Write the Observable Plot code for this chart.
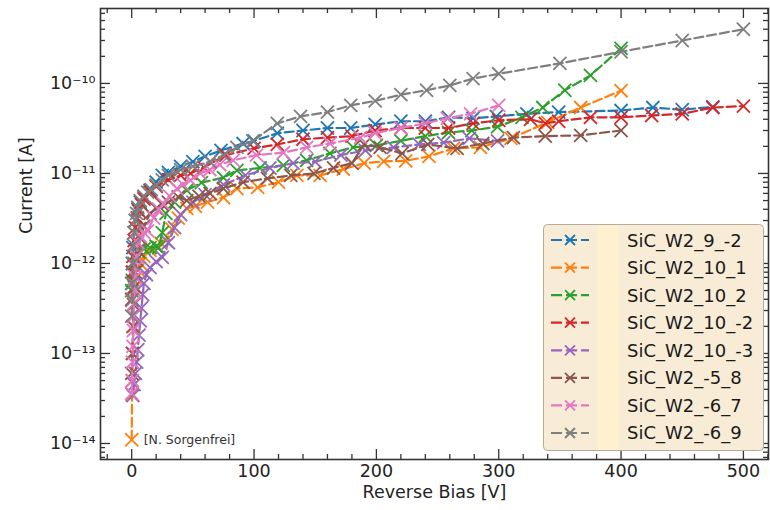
<!DOCTYPE html>
<html><head><meta charset="utf-8">
<script src="https://cdn.jsdelivr.net/npm/d3@7"></script>
<script src="https://cdn.jsdelivr.net/npm/@observablehq/plot@0.6"></script>
<style>
html,body{margin:0;padding:0;background:#fff;}
#wrap{position:relative;width:770px;height:510px;font-family:"DejaVu Sans",sans-serif;}
#legend{position:absolute;left:543px;top:224px;}
</style></head>
<body><div id="wrap"></div>
<script>
// ---- series metadata ----
const names = ["SiC_W2_9_-2","SiC_W2_10_1","SiC_W2_10_2","SiC_W2_10_-2","SiC_W2_10_-3","SiC_W2_-5_8","SiC_W2_-6_7","SiC_W2_-6_9"];
const colors = ["#1f77b4","#ff7f0e","#2ca02c","#d62728","#9467bd","#8c564b","#e377c2","#7f7f7f"];

// ---- data: reverse bias [V] and current [A] ----
const v_9_m2 = [0,0.5,1,2,3,5,7,10,15,20,25,30,40,50,60,73,91,100,119,140,160,179,199,220,240,259,279,298,323,349,400,426,450,475];
const i_9_m2 = [6e-13,1e-12,1.5e-12,2.2e-12,3e-12,4e-12,4.8e-12,5.5e-12,6.5e-12,8e-12,9.5e-12,1.03e-11,1.2e-11,1.35e-11,1.55e-11,1.8e-11,2.15e-11,2.3e-11,2.8e-11,3.0e-11,3.2e-11,3.2e-11,3.5e-11,3.8e-11,3.8e-11,4.2e-11,4.1e-11,4.3e-11,4.6e-11,4.8e-11,5.0e-11,5.4e-11,5.1e-11,5.5e-11];

const v_10_1 = [0,0.3,0.6,1,1.5,2,3,4,5,7,10,15,20,24,28,33,38,45,52,62,75,86,103,120,135,154,173,190,206,224,243,263,285,310,340,367,400];
const i_10_1 = [1.1e-14,3.5e-14,5e-14,1e-13,2e-13,3.5e-13,5.5e-13,7e-13,8.5e-13,1e-12,1.2e-12,1.4e-12,1.55e-12,1.67e-12,1.8e-12,2.4e-12,3.2e-12,4.1e-12,4.3e-12,4.8e-12,5.4e-12,6.8e-12,7e-12,8e-12,9.5e-12,9.5e-12,1.12e-11,1.3e-11,1.36e-11,1.38e-11,1.55e-11,1.9e-11,1.95e-11,2.45e-11,3.7e-11,5.4e-11,8.3e-11];

const v_10_2 = [0,0.5,1,2,4,6,10,15,20,22,25,28,35,45,57,75,86,105,124,143,162,181,200,220,240,259,278,299,319,336,354,375,400];
const i_10_2 = [5e-13,6.5e-13,8e-13,1e-12,1.2e-12,1.35e-12,1.45e-12,1.5e-12,1.55e-12,1.5e-12,2.2e-12,3.6e-12,4.8e-12,6.5e-12,7.9e-12,9e-12,1.08e-11,1.15e-11,1.23e-11,1.4e-11,1.67e-11,1.95e-11,2.05e-11,2.3e-11,2.6e-11,2.85e-11,3.0e-11,3.3e-11,4.2e-11,5.4e-11,8.4e-11,1.23e-10,2.45e-10];

const v_10_m2 = [0,0.5,1,2,3,4.5,6,8,10,15,20,30,40,48,59,77,100,119,140,160,180,199,220,240,259,279,300,326,338,349,375,400,425,450,475,500];
const i_10_m2 = [4e-13,8e-13,1.2e-12,1.8e-12,2.5e-12,3.2e-12,3.8e-12,4.5e-12,5.2e-12,6.2e-12,7.2e-12,8.5e-12,9.5e-12,1.0e-11,1.17e-11,1.6e-11,1.9e-11,2.1e-11,2.4e-11,2.5e-11,2.6e-11,3.0e-11,3.2e-11,3.2e-11,3.2e-11,3.6e-11,3.9e-11,4.0e-11,3.6e-11,3.8e-11,4.2e-11,4.2e-11,4.4e-11,4.6e-11,5.4e-11,5.6e-11];

const v_10_m3 = [1,2,3,4,5,6,7,8,9,10,12,15,20,25,30,35,40,50,60,75,93,113,132,150,171,191,214,235,255,276,299];
const i_10_m3 = [3.4e-14,4.5e-14,6e-14,8e-14,1.1e-13,1.6e-13,2.3e-13,3.2e-13,4.5e-13,6e-13,7.5e-13,9e-13,1.05e-12,1.17e-12,1.7e-12,2.5e-12,3.5e-12,4.8e-12,5.8e-12,7.5e-12,9.5e-12,1.15e-11,1.3e-11,1.35e-11,1.6e-11,1.8e-11,1.95e-11,2.1e-11,2.2e-11,2.45e-11,2.3e-11];

const v_m5_8 = [0,0.5,1,1.5,2,3,4,5,7,10,15,20,25,30,38,45,55,64,75,91,111,130,149,165,180,190,203,221,242,266,287,312,338,367,400];
const i_m5_8 = [6e-14,1e-13,2e-13,3.5e-13,5.5e-13,8e-13,1.1e-12,1.4e-12,1.9e-12,2.6e-12,3.6e-12,4.1e-12,4.5e-12,4.8e-12,5.5e-12,5e-12,5.6e-12,6e-12,6.8e-12,8e-12,8.8e-12,9.5e-12,1.0e-11,1.15e-11,1.3e-11,2.1e-11,1.95e-11,1.67e-11,2.1e-11,1.9e-11,2.15e-11,2.5e-11,2.6e-11,2.65e-11,3.0e-11];

const v_m6_7 = [0,0.3,0.6,1,1.3,1.6,2,2.5,3,3.5,4,5,7,10,13,18,22,26,31,37,42,48,56,64,72,83,102,124,143,162,187,199,220,240,258,277,300];
const i_m6_7 = [3.6e-14,5e-14,8e-14,1.2e-13,1.8e-13,2.6e-13,3.6e-13,5e-13,7e-13,9e-13,1.2e-12,1.7e-12,2e-12,2.2e-12,2.3e-12,3.2e-12,4e-12,4.6e-12,5.6e-12,6.8e-12,7.5e-12,8.4e-12,1e-11,1.1e-11,1.25e-11,1.4e-11,1.6e-11,1.7e-11,1.95e-11,2.15e-11,2.5e-11,2.8e-11,3.2e-11,3.6e-11,4.1e-11,4.6e-11,5.7e-11];

const v_m6_9 = [0,0.3,0.5,1,1.5,2,3,4,5,7,10,13,16,20,25,30,40,50,64,75,86,99,119,138,160,179,199,220,241,260,279,300,350,400,450,500];
const i_m6_9 = [2.6e-13,3.9e-13,6e-13,1e-12,1.6e-12,2.2e-12,3e-12,3.6e-12,4.2e-12,5e-12,5.6e-12,6.2e-12,6.6e-12,7.4e-12,8.5e-12,9.5e-12,1.1e-11,1.2e-11,1.35e-11,1.6e-11,1.95e-11,2.3e-11,3.6e-11,4.3e-11,4.8e-11,5.7e-11,6.4e-11,7.5e-11,8.4e-11,9.5e-11,1.13e-10,1.28e-10,1.67e-10,2.25e-10,3.0e-10,4.0e-10];

const voltages = [v_9_m2,v_10_1,v_10_2,v_10_m2,v_10_m3,v_m5_8,v_m6_7,v_m6_9];
const currents = [i_9_m2,i_10_1,i_10_2,i_10_m2,i_10_m3,i_m5_8,i_m6_7,i_m6_9];

// ---- ticks ----
const xTicks = [0,100,200,300,400,500];
const xMinor = [-20,20,40,60,80,120,140,160,180,220,240,260,280,320,340,360,380,420,440,460,480,520];
const yTicks = [1e-14,1e-13,1e-12,1e-11,1e-10];
const yTickLabels = ["10\u207B\u00B9\u2074","10\u207B\u00B9\u00B3","10\u207B\u00B9\u00B2","10\u207B\u00B9\u00B9","10\u207B\u00B9\u2070"];
const yMinorMant = [2,3,4,5,6,7,8,9];
const yMinorExp = [-15,-14,-13,-12,-11,-10];
const annotation = "[N. Sorgenfrei]";

// ---- layout ----
const W = 770, H = 510, mL = 100, mR = 2, mT = 8, mB = 51;
const innerW = W - mL - mR, innerH = H - mT - mB;
const xDomain = [-25.5, 520.5];
const yDomain = [6.64e-15, 6.8e-10];

const yMinor = [];
for (const e of yMinorExp) for (const m of yMinorMant) {
  const v = m * Math.pow(10, e);
  if (v > yDomain[0] && v < yDomain[1]) yMinor.push(v);
}

const marks = [];
names.forEach((n, k) => {
  const rows = voltages[k].map((v, j) => ({v, i: currents[k][j]}));
  marks.push(Plot.line(rows, {x: "v", y: "i", stroke: colors[k], strokeWidth: 2.2, strokeDasharray: "9,4"}));
  marks.push(Plot.dot(rows, {x: "v", y: "i", symbol: "times", r: 6, stroke: colors[k], strokeWidth: 1.8}));
});

const tk = {stroke: "#333", strokeWidth: 1.3};
marks.push(
  Plot.tickX(xTicks, {x: d => d, insetTop: innerH - 10, ...tk}),
  Plot.tickX(xTicks, {x: d => d, insetBottom: innerH - 10, ...tk}),
  Plot.tickX(xMinor, {x: d => d, insetTop: innerH - 5, ...tk}),
  Plot.tickX(xMinor, {x: d => d, insetBottom: innerH - 5, ...tk}),
  Plot.tickY(yTicks, {y: d => d, insetRight: innerW - 10, ...tk}),
  Plot.tickY(yTicks, {y: d => d, insetLeft: innerW - 10, ...tk}),
  Plot.tickY(yMinor, {y: d => d, insetRight: innerW - 5, ...tk}),
  Plot.tickY(yMinor, {y: d => d, insetLeft: innerW - 5, ...tk}),
  Plot.frame({stroke: "#333", strokeWidth: 1.6}),
  Plot.axisX(xTicks, {tickSize: 0, tickPadding: 5, fill: "#222", label: null, tickFormat: d => String(d)}),
  Plot.axisY(yTicks, {tickSize: 0, tickPadding: 5, fill: "#222", label: null, tickFormat: d => yTickLabels[yTicks.indexOf(d)]}),
  Plot.text([annotation], {x: () => 0, y: () => 1.1e-14, text: d => d, dx: 12, textAnchor: "start", fontSize: 12.5, fill: "#333"}),
  Plot.text(["Reverse Bias [V]"], {frameAnchor: "bottom", dy: 38, text: d => d, fill: "#222"}),
  Plot.text(["Current [A]"], {frameAnchor: "left", dx: -74, rotate: -90, text: d => d, fill: "#222"})
);

const chart = Plot.plot({
  width: W, height: H,
  marginLeft: mL, marginRight: mR, marginTop: mT, marginBottom: mB,
  style: {fontFamily: "DejaVu Sans, sans-serif", fontSize: "17.5px", background: "#fff", overflow: "visible"},
  x: {domain: xDomain},
  y: {type: "log", domain: yDomain},
  marks
});
const wrap = document.getElementById("wrap");
wrap.appendChild(chart);

// ---- legend ----
const LW = 220, LH = 226, rowH = 27.57, row0 = 16;
const ns = "http://www.w3.org/2000/svg";
const lg = document.createElementNS(ns, "svg");
lg.setAttribute("id", "legend");
lg.setAttribute("width", LW + 2); lg.setAttribute("height", LH + 2);
function el(tag, attrs, parent) { const e = document.createElementNS(ns, tag); for (const k in attrs) e.setAttribute(k, attrs[k]); (parent || lg).appendChild(e); return e; }
el("rect", {x: 0.5, y: 0.5, width: LW, height: LH, rx: 4, fill: "#f8ecd7", stroke: "#b3ab9e", "stroke-width": 1});
el("rect", {x: 54, y: 1, width: 22, height: LH - 1, fill: "#fff1d0"});
names.forEach((n, k) => {
  const cy = row0 + k * rowH;
  el("line", {x1: 8, x2: 46, y1: cy, y2: cy, stroke: colors[k], "stroke-width": 2.2, "stroke-dasharray": "11,4"});
  const s = 5;
  el("path", {d: `M${27 - s},${cy - s}L${27 + s},${cy + s}M${27 - s},${cy + s}L${27 + s},${cy - s}`, stroke: colors[k], "stroke-width": 1.8, fill: "none"});
  const t = el("text", {x: 84, y: cy, "dominant-baseline": "central", "font-size": "18px", fill: "#1a1a1a", "font-family": "DejaVu Sans, sans-serif"});
  t.textContent = n;
});
wrap.appendChild(lg);
</script></body></html>
